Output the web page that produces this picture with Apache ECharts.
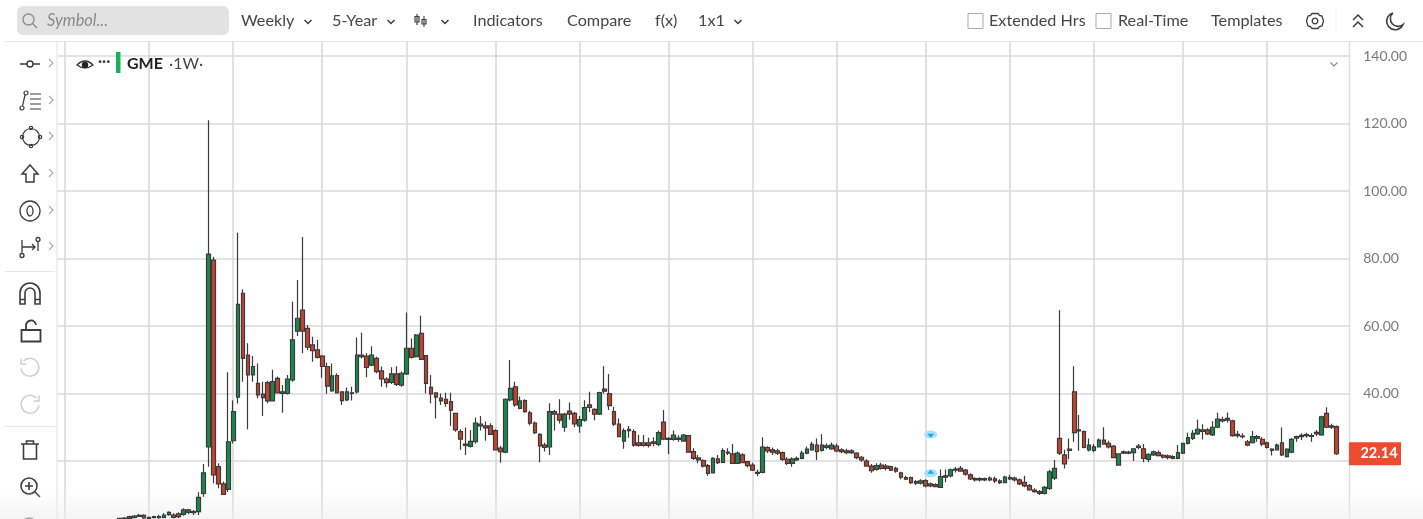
<!DOCTYPE html>
<html>
<head>
<meta charset="utf-8">
<style>
html,body{margin:0;padding:0;background:#fff;overflow:hidden}
#chart{width:1423px;height:519px;filter:blur(0.7px)}
</style>
<script src="https://cdn.jsdelivr.net/npm/echarts@6/dist/echarts.min.js"></script>
</head>
<body>
<div id="chart"></div>
<script>
// ---------- DATA ----------
const symbol = 'GME';
const resolution = '1W';
const yVisibleMin = 2.81, yVisibleMax = 144.15;
const yTicks = [20,40,60,80,100,120,140];
const yLabelTicks = [40,60,80,100,120,140]; // the 20.00 label sits under the price tag
const quarterWeeks = [2,19,36,54,71,89,106,124,141,158,176,193,210,228,245];
const eventWeek = 177;
const eventPrices = [27.85, 16.4];
const leadingEmptyWeeks = 13;
const trailingEmptyWeeks = 3;
// each row: open, close, low, high
const weeklyOHLC = [
[3,2.9,2.8,3.2],[3.1,2.9,2.7,3.4],[3,3.5,2.8,3.8],[3.2,3.7,3,4],[3.9,3.6,3.4,4.3],[3.9,3.1,2.9,4.2],[3.3,3,2.8,3.5],[3.5,3.2,3,3.8],
[3.2,3.5,2.9,4],[3.3,4,3,4.5],[4.1,4.8,3.8,5.1],[4,3.3,3,4.5],[4.3,3.5,3.1,4.8],[4.2,5.5,3.8,6],[5.5,4.8,4.3,5.8],[5,4.7,4,5.5],
[5,9.2,4,10.7],[10.4,16.5,9.4,19.1],[24.2,81.3,18.3,121],[79.5,15.9,13.4,80.5],[18.3,13.2,11.9,19.3],[13.2,10.1,9.9,13.9],
[11.6,25.7,10.8,46.3],[26,34.6,25.2,38],[38.9,66.4,37,87.6],[69.7,50.4,43.5,70.9],[51.4,45.5,29.4,54.9],[45.5,48,43.5,51.1],
[43,39.6,38.6,48.9],[39.8,38.8,33.3,43.5],[43.2,37.8,37.1,43.8],[37.8,43.5,37.6,47],[44.5,40.2,40,45],[40,40.5,34.3,42.5],
[40,44.3,39.7,45.5],[44,55.9,43.5,67.2],[58.5,62.3,57,73.6],[64.7,58.5,51.9,86.4],[59.3,53.7,52.9,60.3],[54.4,52.7,49.4,56.8],
[52.9,50.7,50.4,55.9],[51.1,48,44.7,51.4],[48,42.2,39.9,49.1],[40.8,45.2,40.5,48.9],[45.3,40.2,40,46],[40.5,37.9,36.6,40.7],
[38.1,40.5,37.8,41.8],[40.2,40,37.9,42],[40.5,51.4,40,56.6],[51.4,50.9,50.4,58],[51.1,47.7,44.8,51.9],[48.4,51.4,48.1,54],
[50.4,46.5,46,50.9],[46.7,44.3,42,48],[44.3,43.2,41.8,44.8],[43.3,45.8,42.8,47.8],[45.8,42.7,42.2,48.1],[42.5,46,42,46.5],
[45.8,53.4,45.5,64],[53.4,50.7,50.4,56.3],[50.9,57.3,50.7,57.6],[57.8,50.1,49.9,63],[51.2,43,40,51.4],[41.8,39.9,37.1,45.5],
[40.2,38.9,32.6,40.4],[38.6,37.8,36.6,40],[38.3,37.1,36.1,40.2],[37.6,35.1,30.4,40.2],[34.1,29.2,28.7,34.2],[28.7,26.5,23.3,29.4],
[25,24.6,21.8,29.9],[24.3,25.8,24,29.2],[25.7,31.2,25.2,32.9],[30.9,30.4,29,33.3],[30.4,29.8,26,31.7],[30.4,27.9,27.7,31.2],
[29,23.3,23.1,29.4],[23.8,22.8,19.5,24.5],[22.6,38.3,22.3,38.6],[38.1,41.5,37.6,49.9],[42,36.6,36.1,43.5],[35.6,37.8,35.3,39.1],
[37.9,34.6,34.3,38.3],[34.3,31.2,30.6,34.9],[31.2,28.4,28,31.7],[27.9,24.5,19.6,28.2],[24.7,24,22.8,25.4],[24.2,34.6,21.8,37.1],
[34.6,33.9,29,35.1],[33.9,32.1,31.1,38.3],[30,33.9,28.7,34.3],[34.8,33.9,32.2,37.3],[34.1,31,30,34.6],[30.4,32.3,28.4,33.3],
[32.1,35.8,31.6,38],[36.6,35.9,34.5,40.5],[35.3,33.9,32.1,35.6],[33.9,40.3,33.6,40.5],[41.3,40.7,40,48.1],[40,36.4,35.1,45.8],
[34.6,30.9,30.4,36],[30.9,27.2,27,32.6],[25.9,29,23.6,29.7],[29.4,29,26.9,30.4],[28.7,24.7,24.2,29.4],[25.4,24.6,24.2,27.7],
[25.4,24.6,24.2,27.7],[25.4,24.6,24,26.9],[25.7,25.2,24.4,27],[24.9,28.4,24.4,29],[31.5,26.5,26.2,35.1],[26.7,26.4,22.1,27],
[26.4,27.7,26,29],[26.8,26.4,25.7,27.6],[25.9,27.7,25.7,28],[27.5,22.6,22.5,27.7],[22.8,20.8,20.3,23.8],[20.9,20.3,19.3,21.8],
[20.1,18.5,18.1,20.5],[18.6,16.3,15.6,19.1],[16.5,20.8,16.3,21.1],[20.6,19.5,19.1,21.8],[19.6,23.1,19.5,23.8],[22.6,22.3,21.8,23.8],
[22.1,19.3,19.1,25],[19.3,22.3,19.1,22.8],[21.8,19.5,19.3,22.3],[19.8,18.6,18.1,20.1],[18.8,17.3,17,19.5],[16.6,16.3,15.5,17.5],
[16.6,24.1,16.4,27],[24,23,22.4,24.4],[23.3,22.6,21.8,24],[23,22.3,21.8,23.6],[22.5,20.5,20,22.8],[20.5,19.3,18.8,21.1],
[19.3,20.6,18.3,21.1],[20.8,20.3,20,21.3],[20.8,22.3,20.5,23],[22.3,23.5,22,24.3],[23.3,24.9,23,25.7],[24.7,22.8,20.3,26.7],
[23.1,24.7,22.8,27.9],[24.5,24,23.5,25.2],[23.6,24.7,23.3,25.5],[24.4,23,22.6,25.2],[23.3,22.8,22.3,23.8],[23,22.5,22,23.6],
[23,22.5,22.1,23.5],[22.3,21,20.5,22.6],[21.1,20.3,19.8,21.5],[20,18.5,18.3,20.5],[18.5,17.1,16.5,19.1],[17.5,18.6,17.1,19.3],
[18.8,17.8,17.5,19.5],[18.5,17.8,17.2,19.1],[18.3,17.3,17,18.6],[17.8,17,16.5,18.3],[16.5,15.2,14.6,16.8],[15.1,14.6,14.4,15.6],
[15.1,13.6,13.2,15.4],[13.9,13.4,12.9,14.4],[13.4,14.1,13,14.6],[14.2,12.6,12.2,14.6],[13.2,12.6,12.2,13.6],[13,12.4,12.2,13.4],
[12.2,15.4,12,17.5],[15.6,15.2,13.7,17.5],[15.6,17.4,15.2,17.8],[17.6,17.3,16.6,18.2],[17.8,17,16.8,18.5],[17.3,16.1,15.6,17.6],
[15.9,14.7,14.4,16.4],[14.8,14.4,13.9,15.2],[14.8,14.4,13.9,15.2],[14.8,14.4,14,15.1],[14.9,14.4,14,15.4],[14.7,14.1,13.5,15.4],
[14.1,13.6,13.2,14.6],[13.6,15.2,13.4,15.6],[15.1,14.7,14.4,15.9],[14.9,14.4,13.9,15.4],[14.4,13.2,12.8,14.8],[13.7,12.6,12.2,15.6],
[12.7,11.4,11.2,13.2],[11.4,10.9,10.6,11.9],[10.9,10.4,9.9,11.4],[10.4,12.2,10.1,12.6],[11.9,16.8,11.4,17.3],[14.9,17.8,14.4,20.3],
[26.7,22.3,21.8,64.7],[21.8,19.1,17.8,23.3],[23.5,23.1,20.5,26.7],[40.5,28.4,25.7,48.1],[29.2,28.9,23,33.6],[28.7,24,23.8,29],
[23.3,24.7,22.8,26.7],[23.1,24.2,22.6,25],[24.2,26.2,24,26.7],[26.2,25,24.8,30],[25.2,24.2,23.7,26],[24.4,21,20.8,24.7],
[18.8,22.1,18.6,22.3],[22.7,22.3,22.1,23.1],[22.6,22.3,22,23],[22.5,23.6,20,23.8],[24.4,24,23.5,25],[23.6,20.8,19.6,25],
[20.5,22,19.6,22.3],[21.8,22.7,21.5,23.1],[22.5,21.6,21.3,23.1],[21.7,21.1,20.7,22.1],[21.5,21,20.5,21.9],[21.3,20.8,20.5,21.7],
[20.8,22.5,20.5,24.7],[22.3,25.2,22.1,25.4],[25.2,26.9,24.9,28.4],[26.7,28.2,26.2,29.2],[28,29.4,27.7,32.3],[29.2,28.8,26.4,30.9],
[29.2,28,27.7,29.7],[27.7,30,27.4,31.8],[30,32.4,29.7,34.3],[32.3,31.9,31.4,33.1],[32.6,32.1,31.4,34.4],[31.9,27.5,27.2,32.2],
[27.9,27.5,26.9,28.9],[27.4,27.2,26.7,28.2],[25.7,24.7,24.4,26.2],[25.4,27.2,25.2,28.9],[27.2,26.7,25.7,27.7],[26.4,25,24.4,27],
[25.4,24,23.7,25.7],[23.5,23.1,21.6,23.8],[23.3,24.7,23.1,25.2],[25.4,21.8,21.5,29.9],[21.3,23.5,21,23.8],[22.6,26.4,22.3,26.8],
[27.2,26.8,25.7,27.5],[27.6,27.2,26.2,28.2],[27.8,27.5,26.9,28.4],[27.5,27.3,25.7,28.2],[28.5,28,27.4,29.2],[27.7,33.1,27.5,33.4],
[34.1,30,29.7,35.9],[30.4,30,29.5,31],[30.2,22.14,21.8,30.5]
];
// ---------- derived ----------
const candleData = Array(leadingEmptyWeeks).fill('-').concat(weeklyOHLC);
const categories = candleData.concat(Array(trailingEmptyWeeks).fill('-')).map((_, i) => String(i));
const lastClose = weeklyOHLC[weeklyOHLC.length - 1][1];

// ---------- page chrome helpers ----------
const FONT = 'Lato';
const Z = 60;
let shapeNo = 0;
const txt = (s, x, y, o = {}) => ({type:'text', x, y, z:Z+1, style:Object.assign({text:s, fontFamily:FONT, fontSize:16.2, fill:'#454545', verticalAlign:'middle', align:'left'}, o)});
const icon = (d, x, y, c = '#3d3d3d', w = 1.5, fill = 'none') => {
  const name = 'toolIcon' + (shapeNo++);
  echarts.graphic.registerShape(name, echarts.graphic.extendPath(d, {}));
  return {type:name, x, y, z:Z+1, style:{fill, stroke:c, lineWidth:w}};
};
const ring = (cx, cy, r) => `M${cx-r} ${cy}a${r} ${r} 0 1 0 ${2*r} 0a${r} ${r} 0 1 0 ${-2*r} 0`;
const chevD = 'M-3.5 -2L0 1.5L3.5 -2';
const chevR = 'M-2 -4L2 0L-2 4';
const fadeFill = () => new echarts.graphic.LinearGradient(0,0,0,1,[{offset:0,color:'rgba(238,238,238,0)'},{offset:1,color:'rgba(238,238,238,0.6)'}]);

const chrome = [
  // opaque panels
  {type:'rect', z:Z, shape:{x:0,y:0,width:1423,height:42}, style:{fill:'#fff'}},
  {type:'rect', z:Z, shape:{x:0,y:42,width:57,height:477}, style:{fill:'#fff'}},
  {type:'rect', z:Z, shape:{x:1349,y:42,width:74,height:477}, style:{fill:'#fff'}},
  {type:'line', z:Z+1, shape:{x1:5,y1:41.5,x2:1423,y2:41.5}, style:{stroke:'#e6e6e6',lineWidth:1.2}},
  {type:'line', z:Z+1, shape:{x1:57,y1:42,x2:57,y2:519}, style:{stroke:'#e6e6e6',lineWidth:1.2}},
  {type:'line', z:Z+1, shape:{x1:1349.5,y1:42,x2:1349.5,y2:519}, style:{stroke:'#dedede',lineWidth:1.4}},
  // search
  {type:'rect', z:Z+1, shape:{x:17,y:6,width:212,height:29,r:6}, style:{fill:'#e2e2e2'}},
  icon(ring(-1.5,-1.5,5.5)+'M2.5 2.5L7 7', 30, 21, '#8f8f8f', 1.4),
  txt('Symbol...', 47, 21, {fontStyle:'italic', fill:'#8a8a8a', fontSize:16.4}),
  // top bar
  txt('Weekly', 241, 21), icon(chevD, 308, 22),
  txt('5-Year', 332, 21), icon(chevD, 391, 22),
  icon('M-5 -6V5M-7 -3.5H-3V2H-7ZM2 -4V7M0 -.5H4V4H0Z', 422, 20, '#444', 1.2), icon(chevD, 445, 22),
  txt('Indicators', 473, 21), txt('Compare', 567, 21), txt('f(x)', 655, 21),
  txt('1x1', 698, 21), icon(chevD, 738, 22),
  {type:'rect', z:Z+1, shape:{x:968,y:13.5,width:15,height:15}, style:{fill:'#fff',stroke:'#aaa',lineWidth:1}},
  txt('Extended Hrs', 989, 21),
  {type:'rect', z:Z+1, shape:{x:1096,y:13.5,width:15,height:15}, style:{fill:'#fff',stroke:'#aaa',lineWidth:1}},
  txt('Real-Time', 1118, 21), txt('Templates', 1211, 21),
  icon(ring(0,0,2.8)+'M-3 -7.5L3 -7.5L4.5 -5.5L7 -5L8.5 0L7 5L4.5 5.5L3 7.5L-3 7.5L-4.5 5.5L-7 5L-8.5 0L-7 -5L-4.5 -5.5Z', 1315, 21, '#3d3d3d', 1.3),
  {type:'line', z:Z+1, shape:{x1:1336,y1:8,x2:1336,y2:32}, style:{stroke:'#eee',lineWidth:1}},
  icon('M-5 -1L0 -6L5 -1M-5 6L0 1L5 6', 1358, 21),
  icon('M-2 -8A8.5 8.5 0 1 0 8 3.5A7 7 0 0 1 -2 -8', 1395, 21, '#3d3d3d', 1.6),
  // legend
  icon('M-8 0Q0 -8 8 0Q0 6 -8 0Z', 85, 65, '#333', 1.2),
  {type:'circle', z:Z+1, shape:{cx:85,cy:65,r:3.2}, style:{fill:'#222'}},
  txt('\u00b7\u00b7\u00b7', 98, 61, {fontSize:15, fontWeight:'bold', fill:'#444'}),
  {type:'rect', z:Z+1, shape:{x:116,y:52,width:4.5,height:21}, style:{fill:'#12b45c'}},
  txt(symbol, 127, 63.5, {fontWeight:'bold', fill:'#222', fontSize:16}),
  txt('\u00b7' + resolution + '\u00b7', 169, 63.5, {fill:'#444', fontSize:16}),
  icon(chevD, 1334, 64.5, '#888', 1.1),
  // left tools
  icon('M-10 0H-3M3 0H10'+ring(0,0,3), 30, 64),
  icon(ring(-4,-8,2)+ring(-8,7,2)+'M-5 -6L-7.5 5M0 -7H11M0 -2H11M0 3H11M0 8H11', 30, 101, '#3d3d3d', 1.2),
  icon(ring(0,0,8.5)+ring(0,-9,1.7)+ring(9,0,1.7)+ring(0,9,1.7)+ring(-9,0,1.7), 31, 137, '#3d3d3d', 1.2),
  icon('M0 -9L8 0H4V8H-4V0H-8Z', 30, 174),
  icon(ring(0,0,10)+'M0 -5a3 5 0 1 0 .01 0', 30, 211, '#3d3d3d', 1.3),
  icon('M-8 -7V7M-8 0H5M2 -3L5 0L2 3M8 -5V4'+ring(8,-7.5,2)+ring(-8,8.5,2), 30, 247, '#3d3d3d', 1.3),
  {type:'line', z:Z+1, shape:{x1:5,y1:271.5,x2:55,y2:271.5}, style:{stroke:'#e6e6e6',lineWidth:1}},
  icon('M-10 10V-1A10 10 0 0 1 10 -1V10H5V-1A5 5 0 0 0 -5 -1V10ZM-10 5.5H-5M5 5.5H10', 30, 294, '#3d3d3d', 1.6),
  icon('M-9.5 -2H9.5V9.5H-9.5ZM-5 -2V-6A5 5 0 0 1 5 -7', 31, 332, '#3d3d3d', 1.8),
  icon('M-6.5 -6A9 9 0 1 1 -9 1.5M-9 -8.5V-3H-3.5', 30, 367, '#cfcfcf', 1.6),
  icon('M6.5 -6A9 9 0 1 0 9 1.5M9 -8.5V-3H3.5', 30, 404, '#cfcfcf', 1.6),
  {type:'line', z:Z+1, shape:{x1:5,y1:426.5,x2:55,y2:426.5}, style:{stroke:'#e6e6e6',lineWidth:1}},
  icon('M-9 -6H9M-6.5 -6V9H6.5V-6M-3.5 -6V-9H3.5V-6', 30, 450, '#3d3d3d', 1.6),
  icon(ring(-1,-1,8)+'M5 5L10 10M-5 -1H3M-1 -5V3', 30, 487, '#3d3d3d', 1.6),
  icon(ring(-1,-1,8)+'M5 5L10 10M-5 -1H3', 30, 527, '#3d3d3d', 1.6),
];
[64,101,137,174,211,247].forEach(y => chrome.push(icon(chevR, 51, y - 1, '#a8a8a8', 1.1)));
// soft fade along the bottom edge of the shot: behind the candles in the plot, over the side panels
chrome.push({type:'rect', z:2, shape:{x:57,y:490,width:1292,height:29}, style:{fill:fadeFill()}});
chrome.push({type:'rect', z:Z+4, shape:{x:0,y:490,width:57,height:29}, style:{fill:fadeFill()}});
chrome.push({type:'rect', z:Z+4, shape:{x:1349,y:490,width:74,height:29}, style:{fill:fadeFill()}});

const chart = echarts.init(document.getElementById('chart'), null, {width:1423, height:519});
const gridTop = 42, gridHeight = 477, gridLeft = 55.1, gridWidth = 1296.1;
const yBase = {type:'value', position:'right', min:yVisibleMin, max:yVisibleMax,
  axisLine:{show:false}};
chart.setOption({
  animation:false,
  backgroundColor:'#fff',
  grid:{left:gridLeft, top:gridTop, width:gridWidth, height:gridHeight, containLabel:false},
  xAxis:{type:'category', data:categories, boundaryGap:false,
    axisLine:{show:false}, axisTick:{show:false}, axisLabel:{show:false},
    splitLine:{show:true, interval:(i) => quarterWeeks.includes(i), lineStyle:{color:'#dadada', width:1.6}}},
  yAxis:[
    Object.assign({}, yBase, {axisLabel:{show:false}, axisTick:{show:false, customValues:yTicks},
      splitLine:{show:true, lineStyle:{color:'#dadada', width:1.6}}}),
    Object.assign({}, yBase, {z:100, splitLine:{show:false}, axisTick:{show:false, customValues:yLabelTicks},
      axisLabel:{show:true, margin:12, color:'#7a7a7a', fontFamily:FONT, fontSize:14, customValues:yLabelTicks,
        formatter:(v) => Number(v).toFixed(2)}})
  ],
  series:[
    {type:'candlestick', data:candleData, yAxisIndex:0, barWidth:4.2, z:3,
      itemStyle:{color:'#198a4f', color0:'#c4442c', borderColor:'#3a3a3a', borderColor0:'#3a3a3a', borderWidth:1.2}},
    {type:'scatter', yAxisIndex:0, z:4, symbol:'circle', symbolSize:[13,8], silent:true,
      itemStyle:{color:'#a9e2ff', opacity:1},
      data:eventPrices.map(p => [String(eventWeek), p])},
    {type:'scatter', yAxisIndex:0, z:5, symbol:'triangle', symbolSize:[7,4], silent:true,
      itemStyle:{color:'#1ea6ea', opacity:1},
      data:[[String(eventWeek), eventPrices[0]-0.4]], symbolRotate:180},
    {type:'scatter', yAxisIndex:0, z:5, symbol:'triangle', symbolSize:[7,4], silent:true,
      itemStyle:{color:'#1ea6ea', opacity:1},
      data:[[String(eventWeek), eventPrices[1]+0.4]]}
  ],
  graphic:{elements:chrome}
});
// current-price tag sits on the last close
const tagY = chart.convertToPixel({yAxisIndex:0}, lastClose);
chart.setOption({graphic:{elements:[
  {type:'rect', id:'tag', z:Z+2, shape:{x:1349,y:tagY-11.5,width:52,height:23}, style:{fill:'#ee4b2e'}},
  {type:'text', id:'tagText', z:Z+3, x:1379, y:tagY, style:{text:lastClose.toFixed(2), fontFamily:FONT, fontWeight:'bold', fontSize:14.5, fill:'#fff', align:'center', verticalAlign:'middle'}}
]}});
</script>
</body>
</html>
